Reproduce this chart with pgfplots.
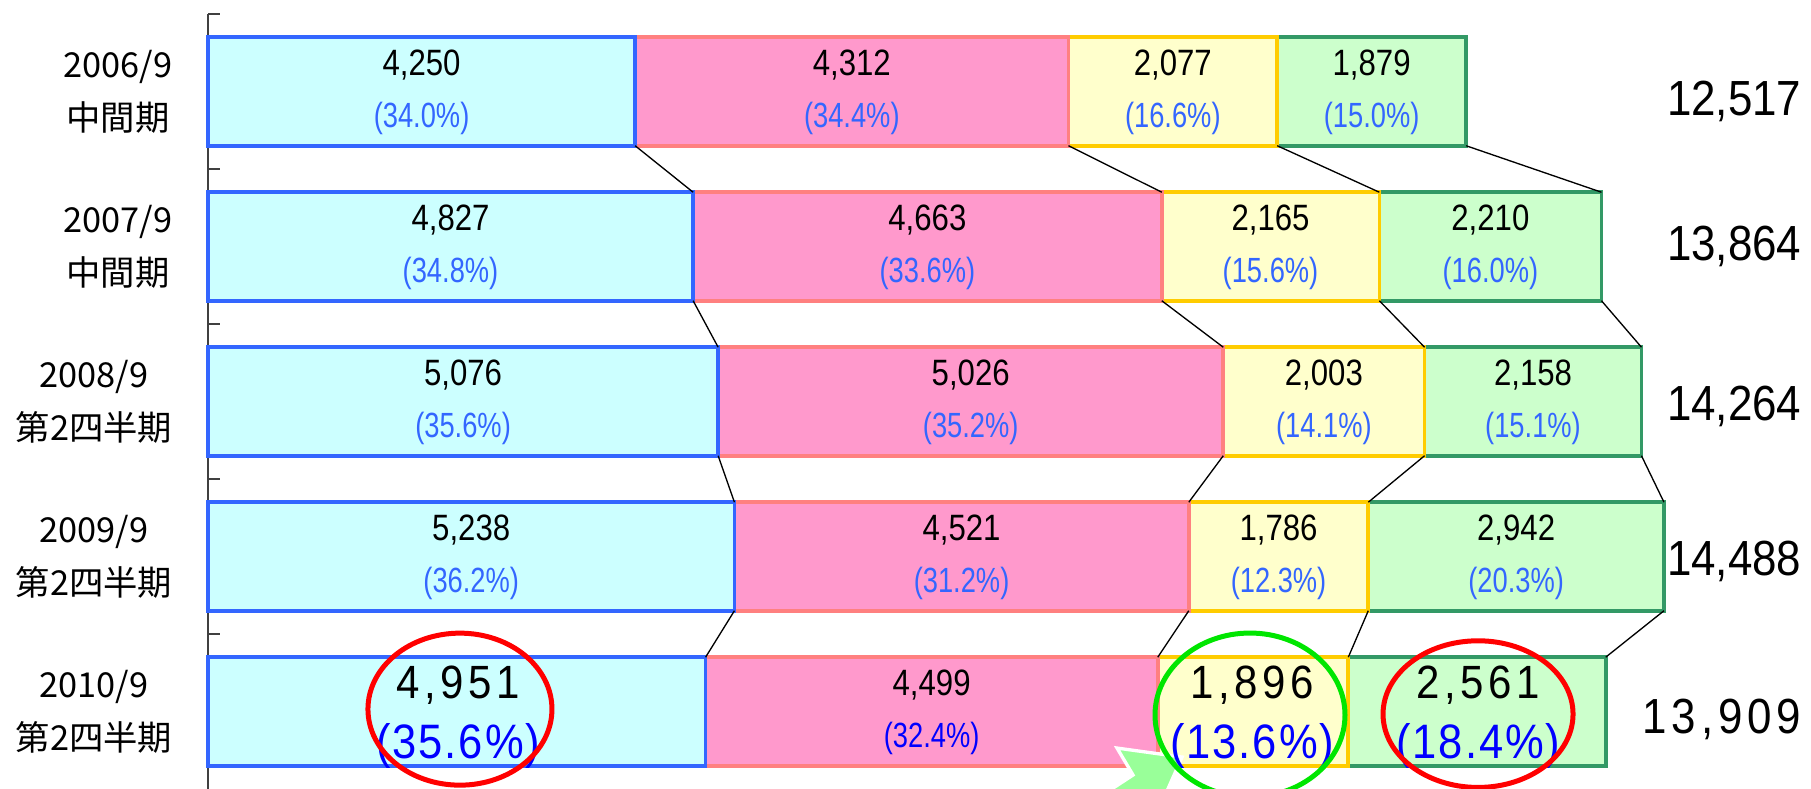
\documentclass[border=0pt]{standalone}
\usepackage{pgfplots}
\pgfplotsset{compat=1.18}
\usepackage{fontspec}
\setmainfont{Liberation Sans}
\newfontfamily\cjk{Noto Sans CJK JP}
\newfontfamily\segfont[FakeStretch=0.85]{Liberation Sans}
\newfontfamily\pctfont[FakeStretch=0.78]{Liberation Sans}
\newfontfamily\totfont[FakeStretch=0.89]{Liberation Sans}
\newfontfamily\totspfont[FakeStretch=0.89, LetterSpace=10]{Liberation Sans}
\newfontfamily\bigfont[FakeStretch=0.9, LetterSpace=10]{Liberation Sans}
\newfontfamily\bigpfont[FakeStretch=0.9, LetterSpace=4]{Liberation Sans}
\newcommand\segf{\segfont\fontsize{11}{13}\selectfont}
\newcommand\pctf{\pctfont\fontsize{10.5}{12}\selectfont}
\newcommand\totf{\totfont\fontsize{14.8}{17}\selectfont}
\newcommand\totsp{\totspfont\fontsize{14.8}{17}\selectfont}
\newcommand\bignum{\bigfont\fontsize{14}{16}\selectfont}
\newcommand\bigp{\bigpfont\fontsize{14.5}{16}\selectfont}
\definecolor{cyanfill}{HTML}{CCFFFF}
\definecolor{cyanedge}{HTML}{3366FF}
\definecolor{pinkfill}{HTML}{FF99CC}
\definecolor{pinkedge}{HTML}{FF8080}
\definecolor{yelfill}{HTML}{FFFFCC}
\definecolor{yeledge}{HTML}{FFCC00}
\definecolor{grnfill}{HTML}{CCFFCC}
\definecolor{grnedge}{HTML}{339966}
\definecolor{pctblue}{HTML}{3366FF}
\definecolor{strongblue}{HTML}{0000FF}
\definecolor{ellred}{HTML}{FF0000}
\definecolor{ellgreen}{HTML}{00E600}
\definecolor{arrowgreen}{HTML}{99FF99}
\newcommand\seg[4]{%
  \node[font=\segf, text=black] at (axis cs:#1,#2) [yshift=8pt] {#3};
  \node[font=\pctf, text=pctblue] at (axis cs:#1,#2) [yshift=-8pt] {#4};}
\newcommand\bigseg[4]{%
  \node[font=\bignum, text=black] at (axis cs:#1,#2) [yshift=8pt] {#3};
  \node[font=\bigp, text=strongblue] at (axis cs:#1,#2) [yshift=-10.3pt] {#4};}
\begin{document}
\begin{tikzpicture}
\begin{axis}[name=ax, scale only axis, width=480.9pt, height=232.5pt,
  xmin=0, xmax=15950, ymin=-0.5, ymax=4.5,
  xbar stacked, bar width=0.7,
  axis x line=none, axis y line*=left,
  ytick={0.5,1.5,2.5,3.5,4.5}, yticklabels={},
  tick align=inside, major tick length=3.5pt,
  y axis line style={draw=black!75, line width=0.5pt},
  tick style={draw=black!75, line width=0.5pt},
  clip=false]
\addplot[fill=cyanfill, draw=cyanedge, line width=1.1pt] coordinates {(4250,4) (4827,3) (5076,2) (5238,1) (4951,0)};
\addplot[fill=pinkfill, draw=pinkedge, line width=1.1pt] coordinates {(4312,4) (4663,3) (5026,2) (4521,1) (4499,0)};
\addplot[fill=yelfill, draw=yeledge, line width=1.1pt] coordinates {(2077,4) (2165,3) (2003,2) (1786,1) (1896,0)};
\addplot[fill=grnfill, draw=grnedge, line width=1.1pt] coordinates {(1879,4) (2210,3) (2158,2) (2942,1) (2561,0)};
\end{axis}
\begin{axis}[at={(ax.south west)}, anchor=south west, scale only axis, width=480.9pt, height=232.5pt,
  xmin=0, xmax=15950, ymin=-0.5, ymax=4.5,
  axis x line=none, axis y line*=left,
  y axis line style={draw=none}, tick style={draw=none},
  ytick={0,1,2,3,4},
  yticklabels={{2010/9\\第2四半期},{2009/9\\第2四半期},{2008/9\\第2四半期},{2007/9\\中間期},{2006/9\\中間期}},
  yticklabel style={font=\cjk\fontsize{10.3}{15.9}\selectfont, align=center, anchor=east, inner sep=0pt, xshift=-10.5pt},
  unbounded coords=jump, clip=false]
% series lines between bars
\addplot[black, line width=0.4pt] coordinates {(4250,3.65) (4827,3.35) (nan,nan) (4827,2.65) (5076,2.35) (nan,nan) (5076,1.65) (5238,1.35) (nan,nan) (5238,0.65) (4951,0.35)};
\addplot[black, line width=0.4pt] coordinates {(8562,3.65) (9490,3.35) (nan,nan) (9490,2.65) (10102,2.35) (nan,nan) (10102,1.65) (9759,1.35) (nan,nan) (9759,0.65) (9450,0.35)};
\addplot[black, line width=0.4pt] coordinates {(10639,3.65) (11655,3.35) (nan,nan) (11655,2.65) (12105,2.35) (nan,nan) (12105,1.65) (11545,1.35) (nan,nan) (11545,0.65) (11346,0.35)};
\addplot[black, line width=0.4pt] coordinates {(12518,3.65) (13865,3.35) (nan,nan) (13865,2.65) (14263,2.35) (nan,nan) (14263,1.65) (14487,1.35) (nan,nan) (14487,0.65) (13907,0.35)};
% arrow
\addplot[fill=arrowgreen, draw=white, line width=1pt] coordinates {(9045,-0.236) (9692,-0.294) (9483,-0.6) (8756,-0.6) (9204,-0.410)} --cycle;
% labels
\seg{2125}{4}{4,250}{(34.0\%)}
\seg{6406}{4}{4,312}{(34.4\%)}
\seg{9600}{4}{2,077}{(16.6\%)}
\seg{11578}{4}{1,879}{(15.0\%)}
\seg{2413}{3}{4,827}{(34.8\%)}
\seg{7158}{3}{4,663}{(33.6\%)}
\seg{10572}{3}{2,165}{(15.6\%)}
\seg{12760}{3}{2,210}{(16.0\%)}
\seg{2538}{2}{5,076}{(35.6\%)}
\seg{7589}{2}{5,026}{(35.2\%)}
\seg{11103}{2}{2,003}{(14.1\%)}
\seg{13184}{2}{2,158}{(15.1\%)}
\seg{2619}{1}{5,238}{(36.2\%)}
\seg{7498}{1}{4,521}{(31.2\%)}
\seg{10652}{1}{1,786}{(12.3\%)}
\seg{13016}{1}{2,942}{(20.3\%)}
\bigseg{2490}{0}{4,951}{(35.6\%)}
\node[font=\segf, text=black] at (axis cs:7200,0) [yshift=8pt] {4,499};
\node[font=\pctf, text=strongblue] at (axis cs:7200,0) [yshift=-8pt] {(32.4\%)};
\bigseg{10390}{0}{1,896}{(13.6\%)}
\bigseg{12640}{0}{2,561}{(18.4\%)}
% totals
\node[font=\totf, anchor=east, inner sep=0pt] at (axis cs:15861,4) [yshift=-3pt] {12,517};
\node[font=\totf, anchor=east, inner sep=0pt] at (axis cs:15861,3) {13,864};
\node[font=\totf, anchor=east, inner sep=0pt] at (axis cs:15861,2) [yshift=-1.5pt] {14,264};
\node[font=\totf, anchor=east, inner sep=0pt] at (axis cs:15861,1) [yshift=-1.5pt] {14,488};
\node[font=\totsp, anchor=east, inner sep=0pt] at (axis cs:15861,0) [yshift=-2.5pt] {13,909};
% ellipses
\draw[ellred, line width=1.5pt] (axis cs:2507,0.015) ellipse [x radius=27.6pt, y radius=22.8pt];
\draw[ellgreen, line width=1.5pt] (axis cs:10368,-0.023) ellipse [x radius=28.5pt, y radius=24.6pt];
\draw[ellred, line width=1.5pt] (axis cs:12637,-0.017) ellipse [x radius=28.5pt, y radius=22pt];
\end{axis}
\pgfresetboundingbox
\path[use as bounding box] ([xshift=-62.4pt]ax.south west) rectangle ([yshift=4.2pt]ax.north east);
\end{tikzpicture}
\end{document}
